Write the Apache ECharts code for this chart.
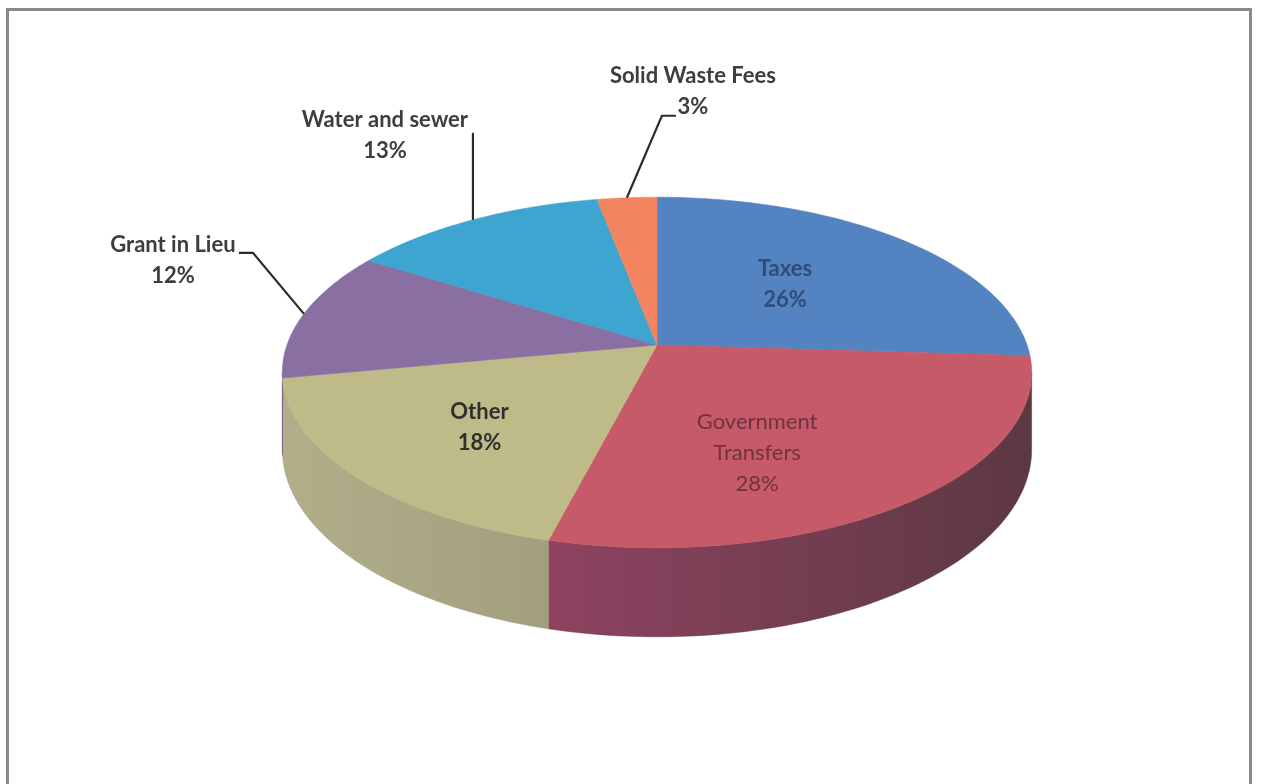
<!DOCTYPE html>
<html><head><meta charset="utf-8">
<script src="https://cdn.jsdelivr.net/npm/echarts@6/dist/echarts.min.js"></script>
<style>html,body{margin:0;padding:0;background:#fff}#chart{width:1261px;height:784px}</style>
</head><body><div id="chart"></div>
<script>
// ---- data ----
const categories = ['Taxes', 'Government Transfers', 'Other', 'Grant in Lieu', 'Water and sewer', 'Solid Waste Fees'];
const labelTexts = ['Taxes', 'Government\nTransfers', 'Other', 'Grant in Lieu', 'Water and sewer', 'Solid Waste Fees'];
const values = [26, 28, 18, 12, 13, 3];

// ---- styles ----
const colors = ['#5383c0', '#c65a68', '#bebb88', '#8a6fa2', '#3da5cf', '#f2855f'];
const wallColors = [['#3f6796', '#345a86'], ['#8e4361', '#5c3842'], ['#b1ae89', '#a29f80'], ['#6e5a86', '#5e4d73'], ['#2f86a8', '#2a7594'], ['#c86a4a', '#b05e42']];
const G = { cx: 657, cy: 345, rx: 370, ry: 171, k: 0.157, depth: 75, visFrom: 99, visTo: 261 };
const labelCfg = [
  { mode: 'in', r: 0.5, dx: 0, dy: -5, color: '#2f4d78', weight: 'bold' },
  { mode: 'in', r: 0.5, dx: -16, dy: 34, color: '#6f3241', weight: 'normal' },
  { mode: 'in', r: 0.5, dx: -35, dy: 21, color: '#2f2f2f', weight: 'bold' },
  { mode: 'out', ex: -51, ey: -61, hx: -14, tx: -66, ty: 8 },
  { mode: 'out', ex: 0, ey: -87, hx: 0, tx: -88, ty: 3 },
  { mode: 'out', ex: 35, ey: -82, hx: 14, tx: 17, ty: -24 }
];
const FONT = 'Lato, "Open Sans", sans-serif';
const FS = 22;

const total = values.reduce((a, b) => a + b, 0);
let acc = 0;
const seriesData = values.map((v, i) => { const d = [i, v, acc]; acc += v; return d; });

function project(deg, r, down) {
  const t = deg * Math.PI / 180;
  const u = r * Math.sin(t), v = -r * Math.cos(t);
  const s = 1 / (1 - G.k * v);
  return [G.cx + G.rx * u * s, G.cy + G.ry * v * s + (down ? G.depth * s : 0)];
}
function arc(a0, a1, r, down) {
  const pts = [];
  const n = Math.max(2, Math.ceil((a1 - a0) / 1));
  for (let j = 0; j <= n; j++) pts.push(project(a0 + (a1 - a0) * j / n, r, down));
  return pts;
}

function renderItem(params, api) {
  const i = params.dataIndex;
  const val = api.value(1), start = api.value(2);
  const a0 = start / total * 360, a1 = (start + val) / total * 360;
  const children = [];
  // side wall
  const w0 = Math.max(a0, G.visFrom), w1 = Math.min(a1, G.visTo);
  if (w1 > w0) {
    const top = arc(w0, w1, 1, false);
    const bot = arc(w0, w1, 1, true).reverse();
    children.push({
      type: 'polygon', z2: 1,
      shape: { points: top.concat(bot) },
      style: {
        fill: new echarts.graphic.LinearGradient(0, 0, 1, 0, [
          { offset: 0, color: wallColors[i][0] }, { offset: 1, color: wallColors[i][1] }]),
        stroke: wallColors[i][1], lineWidth: 0.5
      }
    });
  }
  // top face
  children.push({
    type: 'polygon', z2: 10,
    shape: { points: [[G.cx, G.cy]].concat(arc(a0, a1, 1, false)) },
    style: { fill: colors[i], stroke: colors[i], lineWidth: 0.6 }
  });
  // label
  const pct = Math.round(val / total * 100) + '%';
  const txt = labelTexts[i] + '\n' + pct;
  const c = labelCfg[i];
  const mid = (a0 + a1) / 2;
  if (c.mode === 'in') {
    const p = project(mid, c.r, false);
    children.push({
      type: 'text', z2: 20,
      style: { text: txt, x: p[0] + c.dx, y: p[1] + c.dy, align: 'center', verticalAlign: 'middle',
        fontFamily: FONT, fontSize: FS, fontWeight: c.weight, lineHeight: 31, fill: c.color }
    });
  } else {
    const e = project(mid, 1, false);
    const el = [e[0] + c.ex, e[1] + c.ey];
    const en = [el[0] + c.hx, el[1]];
    children.push({
      type: 'polyline', z2: 20,
      shape: { points: [e, el, en] },
      style: { stroke: '#2b2b2b', lineWidth: 2.2, fill: null }
    });
    children.push({
      type: 'text', z2: 20,
      style: { text: txt, x: en[0] + c.tx, y: en[1] + c.ty, align: 'center', verticalAlign: 'middle',
        fontFamily: FONT, fontSize: FS, fontWeight: 'bold', lineHeight: 31, fill: '#3d3d3d' }
    });
  }
  return { type: 'group', children };
}

const chart = echarts.init(document.getElementById('chart'), null, { renderer: 'canvas' });
chart.setOption({
  animation: false,
  backgroundColor: '#ffffff',
  graphic: [{
    type: 'rect', z: 100, silent: true,
    shape: { x: 7.5, y: 9.5, width: 1243, height: 800 },
    style: { fill: null, stroke: '#8a8a8a', lineWidth: 3 }
  }],
  series: [{
    type: 'custom',
    name: 'Revenue',
    coordinateSystem: 'none',
    renderItem: renderItem,
    data: seriesData,
    dimensions: ['index', 'value', 'start']
  }]
});
</script>
</body></html>
